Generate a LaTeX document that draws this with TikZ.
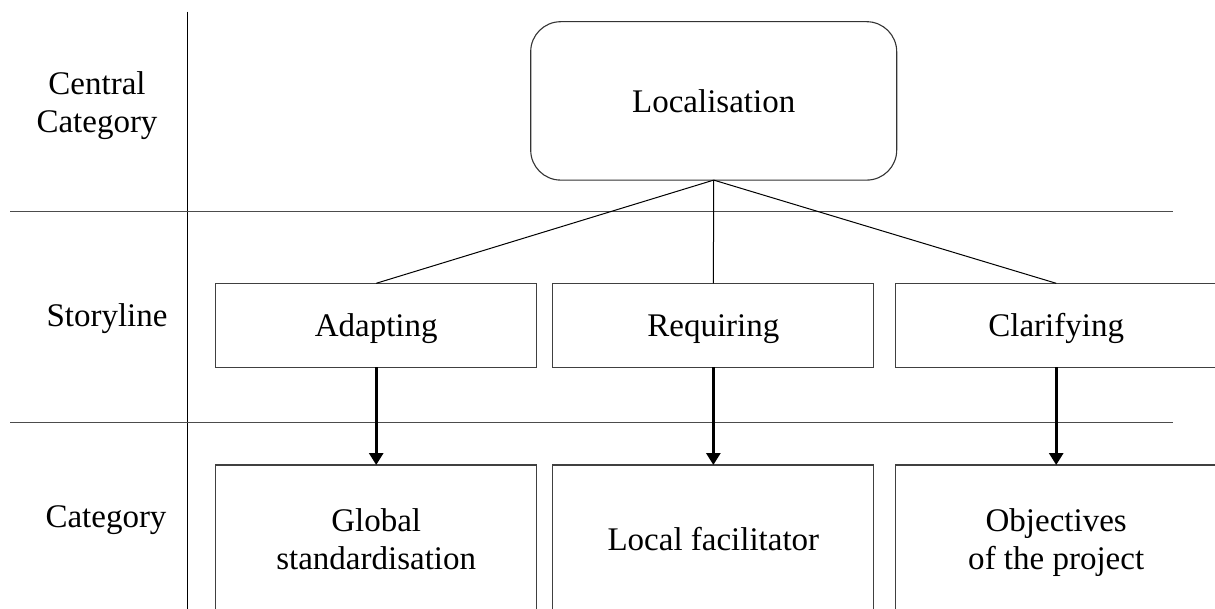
\documentclass[tikz,border=0pt]{standalone}
\usepackage{fontspec}
\setmainfont{Liberation Serif}
\usetikzlibrary{arrows.meta}
% line strut with the ascent/descent of the font, so text sits like in a text frame
\newcommand{\ls}{\rule[-0.216em]{0pt}{1.107em}}
\begin{document}
\begin{tikzpicture}[x=0.5pt,y=-0.5pt,
  every node/.style={font=\fontsize{16.5}{19}\selectfont, inner sep=0pt, outer sep=0pt},
  grid line/.style={line width=0.5pt, draw=black!70},
  divider/.style={line width=0.5pt, draw=black},
  boxframe/.style={draw=black!75, line width=0.55pt, minimum width=160.5pt, align=center},
  rowbox/.style={boxframe, minimum height=42pt},
  catbox/.style={boxframe, minimum height=74.7pt},
  topbox/.style={draw=black!80, line width=0.55pt, rounded corners=15pt,
                 minimum width=183pt, minimum height=79.2pt},
  link/.style={line width=0.5pt, draw=black},
  flow/.style={line width=1.4pt, draw=black, -{Triangle[width=7pt,length=6pt]}},
  rowlabel/.style={align=center}
]
\useasboundingbox (0,0) rectangle (1215,609);
\clip (0,0) rectangle (1215,609);

% frame of the table
\coordinate (dtop) at (187.5,11.7);
\coordinate (dbot) at (187.5,609);
\coordinate (h1l) at (10,211.5);
\coordinate (h1r) at (1172.7,211.5);
\coordinate (h2l) at (10,422.5);
\coordinate (h2r) at (1172.7,422.5);
\draw[divider] (dtop) -- (dbot);
\draw[grid line] (h1l) -- (h1r);
\draw[grid line] (h2l) -- (h2r);

% row headings
\node[rowlabel] (lcentral) at (97,102) {\ls Central\\\ls Category};
\node[rowlabel, anchor=base] (lstory) at (107,326) {Storyline};
\node[rowlabel, anchor=base] (lcat) at (106,527) {Category};

% central category
\node[topbox] (loc) at (713.7,100.9) {\ls Localisation};

% storyline
\node[rowbox] (adapt) at (376.2,325.3) {\ls Adapting};
\node[rowbox] (req) at (713.35,325.3) {\ls Requiring};
\node[rowbox] (clar) at (1056.2,325.3) {\ls Clarifying};

% categories
\node[catbox] (glob) at (376.2,539.7) {\ls Global\\\ls standardisation};
\node[catbox] (fac) at (713.35,539.7) {\ls Local facilitator};
\node[catbox] (obj) at (1056.2,539.7) {\ls Objectives\\\ls of the project};

% links
\draw[link] (loc.south) -- (adapt.north);
\draw[link] (loc.south) -- (req.north);
\draw[link] (loc.south) -- (clar.north);

\draw[flow] (adapt.south) -- (glob.north);
\draw[flow] (req.south) -- (fac.north);
\draw[flow] (clar.south) -- (obj.north);
\end{tikzpicture}
\end{document}
